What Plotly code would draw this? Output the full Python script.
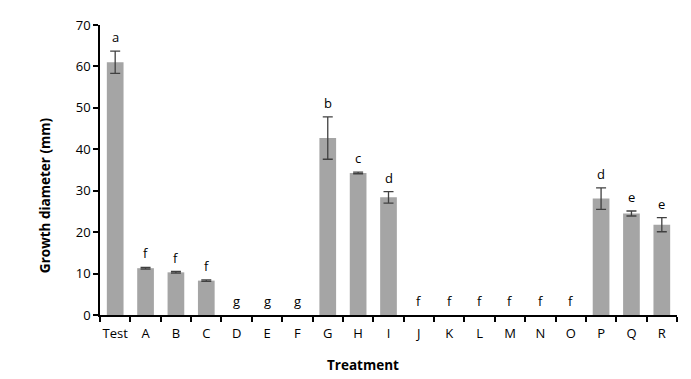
import plotly.graph_objects as go

categories = ["Test", "A", "B", "C", "D", "E", "F", "G", "H", "I", "J", "K", "L", "M", "N", "O", "P", "Q", "R"]
means = [61.0, 11.3, 10.3, 8.3, 0, 0, 0, 42.7, 34.3, 28.4, 0, 0, 0, 0, 0, 0, 28.1, 24.5, 21.8]
errors = [2.7, 0.2, 0.2, 0.2, 0, 0, 0, 5.1, 0.2, 1.4, 0, 0, 0, 0, 0, 0, 2.6, 0.6, 1.7]
letters = ["a", "f", "f", "f", "g", "g", "g", "b", "c", "d", "f", "f", "f", "f", "f", "f", "d", "e", "e"]
y_ticks = [0, 10, 20, 30, 40, 50, 60, 70]

font = "Open Sans"
fig = go.Figure()
fig.add_trace(go.Bar(
    x=categories, y=means,
    width=0.55,
    marker=dict(color="#a5a5a5", line=dict(width=0)),
    showlegend=False,
))
# error bars only where there is a measured spread
idx = [i for i, e in enumerate(errors) if e > 0]
fig.add_trace(go.Scatter(
    x=[categories[i] for i in idx], y=[means[i] for i in idx],
    mode="markers", marker=dict(size=0.1, opacity=0),
    error_y=dict(type="data", array=[errors[i] for i in idx], visible=True,
                 color="#404040", thickness=1.3, width=5),
    showlegend=False, hoverinfo="skip",
))
for c, m, e, t in zip(categories, means, errors, letters):
    fig.add_annotation(x=c, y=m + e, text=t, showarrow=False,
                       yanchor="bottom", yshift=3,
                       font=dict(family=font, size=13, color="black"))
# axis titles
fig.add_annotation(xref="paper", yref="paper", x=0.456, y=-0.172, text="<b>Treatment</b>",
                   showarrow=False, xanchor="center", yanchor="middle",
                   font=dict(family=font, size=13.5, color="black"))
fig.add_annotation(xref="paper", yref="paper", x=-0.095, y=0.414, text="<b>Growth diameter (mm)</b>",
                   showarrow=False, textangle=-90, xanchor="center", yanchor="middle",
                   font=dict(family=font, size=13.5, color="black"))
fig.update_layout(
    width=683, height=371,
    margin=dict(l=92, r=14, t=17, b=64),
    plot_bgcolor="white", paper_bgcolor="white",
    font=dict(family=font, size=13, color="black"),
    bargap=0.45,
)
fig.update_xaxes(
    type="category", categoryorder="array", categoryarray=categories,
    range=[-0.5, 18.5], tickangle=0, automargin=False,
    showline=True, linecolor="black", linewidth=1.5,
    ticks="outside", tickson="boundaries", ticklen=5, tickcolor="black", tickwidth=1.5,
    ticklabelstandoff=6,
    showgrid=False,
)
fig.update_yaxes(
    range=[0, 70], tickvals=y_ticks, automargin=False,
    showline=True, linecolor="black", linewidth=1.5,
    ticks="outside", ticklen=5, tickcolor="black", tickwidth=1.5,
    showgrid=False, zeroline=False,
)
fig.write_html("out.html")
